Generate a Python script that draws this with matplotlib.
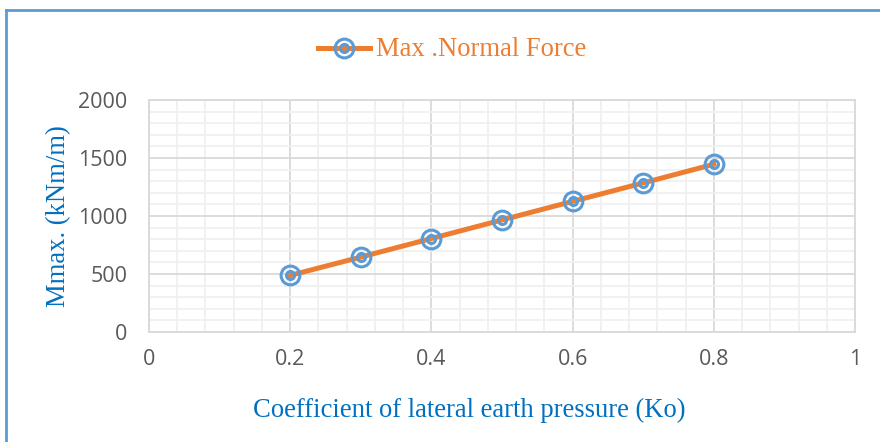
import matplotlib
matplotlib.use("Agg")
import matplotlib.pyplot as plt
from matplotlib.ticker import MultipleLocator
from matplotlib.lines import Line2D

ko = [0.2, 0.3, 0.4, 0.5, 0.6, 0.7, 0.8]
mmax = [488, 646, 806, 966, 1126, 1285, 1446]
x_ticks = [0, 0.2, 0.4, 0.6, 0.8, 1]
x_tick_labels = ["0", "0.2", "0.4", "0.6", "0.8", "1"]
y_ticks = [0, 500, 1000, 1500, 2000]
series_name = "Max .Normal Force"
xlabel = "Coefficient of lateral earth pressure (Ko)"
ylabel = "Mmax. (kNm/m)"

ORANGE = "#ED7D31"
BLUE = "#5B9BD5"
LBLUE = "#0070C0"

fig = plt.figure(figsize=(8.8, 4.42), dpi=100)
ax = fig.add_axes([149/880, 1-332/442, (855-149)/880, (332-100)/442])

ax.set_xlim(0, 1)
ax.set_ylim(0, 2000)
ax.xaxis.set_major_locator(MultipleLocator(0.2))
ax.xaxis.set_minor_locator(MultipleLocator(0.04))
ax.yaxis.set_major_locator(MultipleLocator(500))
ax.yaxis.set_minor_locator(MultipleLocator(100))
ax.grid(which="major", color="#d9d9d9", lw=1.3)
ax.grid(which="minor", color="#f0f0f0", lw=1.3)
ax.set_axisbelow(True)
for s in ax.spines.values():
    s.set_color("#d9d9d9")
    s.set_linewidth(1.3)
ax.tick_params(which="both", length=0)
ax.set_xticks(x_ticks)
ax.set_xticklabels(x_tick_labels)
ax.set_yticks(y_ticks)
for lab in ax.get_xticklabels() + ax.get_yticklabels():
    lab.set_fontfamily("Open Sans")
    lab.set_fontsize(15.5)
    lab.set_color("#595959")
ax.tick_params(axis="x", pad=12)
ax.tick_params(axis="y", pad=15.5)

ax.plot(ko, mmax, color=ORANGE, lw=3.6, zorder=3)
ax.plot(ko, mmax, ls="none", marker="o", ms=13.5, mfc="none", mec=BLUE, mew=2.2, zorder=4)
ax.plot(ko, mmax, ls="none", marker="o", ms=5.8, mfc="none", mec=BLUE, mew=2.2, zorder=4)

ax.set_xlabel(xlabel, family="Liberation Serif", fontsize=19.2, color=LBLUE)
ax.xaxis.set_label_coords((469-149)/706, -(410-332)/232, transform=ax.transAxes)
ax.xaxis.label.set_va("center")
ax.set_ylabel(ylabel, family="Liberation Serif", fontsize=19.2, color=LBLUE, labelpad=5)

# legend
ly = 1 - 48/442
fig.lines.append(Line2D([318/880, 370/880], [ly, ly], color=ORANGE, lw=3.6, transform=fig.transFigure))
fig.lines.append(Line2D([344/880], [ly], ls="none", marker="o", ms=13.5, mfc="none", mec=BLUE, mew=2.2, transform=fig.transFigure))
fig.lines.append(Line2D([344/880], [ly], ls="none", marker="o", ms=5.8, mfc="none", mec=BLUE, mew=2.2, transform=fig.transFigure))
fig.text(376/880, 1-49/442, series_name, family="Liberation Serif", fontsize=19.2, color=ORANGE, va="center", ha="left")

# outer border
fig.lines.append(Line2D([6/880, 6/880], [0, 1-10/442], color="#5B9BD5", lw=2, transform=fig.transFigure))
fig.lines.append(Line2D([6/880, 1], [1-10/442, 1-10/442], color="#5B9BD5", lw=2, transform=fig.transFigure))

fig.savefig("out.png", dpi=100)
